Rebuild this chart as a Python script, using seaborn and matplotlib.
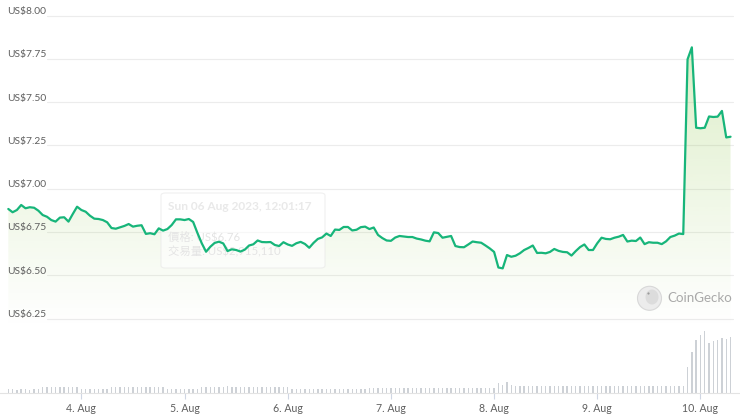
import numpy as np
import pandas as pd
import matplotlib
matplotlib.use('Agg')
import matplotlib.pyplot as plt
import matplotlib.dates as mdates
from matplotlib.colors import to_rgb
from matplotlib.patches import FancyBboxPatch, Ellipse
import seaborn as sns

# 데이터: 2023-08-03 07:00 부터 1시간 간격
start_time = '2023-08-03 07:00'

prices = [
    6.883, 6.864, 6.877, 6.906, 6.887, 6.893, 6.890, 6.873, 6.848, 6.838,
    6.819, 6.810, 6.833, 6.835, 6.810, 6.854, 6.896, 6.877, 6.867, 6.844,
    6.827, 6.825, 6.819, 6.806, 6.773, 6.769, 6.777, 6.785, 6.796, 6.781,
    6.786, 6.789, 6.739, 6.743, 6.737, 6.771, 6.758, 6.767, 6.790, 6.823,
    6.823, 6.819,
    6.825, 6.808, 6.744, 6.685, 6.636, 6.665, 6.687, 6.694, 6.684, 6.640,
    6.650, 6.646, 6.637, 6.648, 6.672, 6.679, 6.701, 6.692, 6.691, 6.692,
    6.675, 6.669, 6.691, 6.678, 6.670, 6.685, 6.693, 6.681, 6.659, 6.687,
    6.710, 6.719, 6.741, 6.727, 6.764, 6.762, 6.779, 6.779, 6.759, 6.763,
    6.778, 6.781,
    6.767, 6.776, 6.733, 6.715, 6.701, 6.699, 6.718, 6.727, 6.724, 6.721,
    6.721, 6.712, 6.707, 6.700, 6.696, 6.748, 6.744, 6.717, 6.722, 6.727,
    6.669, 6.663, 6.662, 6.678, 6.695, 6.691, 6.688, 6.672, 6.655, 6.635,
    6.545, 6.540, 6.617, 6.607, 6.613, 6.627, 6.646, 6.658, 6.672, 6.629,
    6.630, 6.627,
    6.635, 6.652, 6.641, 6.635, 6.633, 6.614, 6.640, 6.663, 6.678, 6.646,
    6.646, 6.685, 6.717, 6.710, 6.708, 6.717, 6.723, 6.733, 6.695, 6.700,
    6.698, 6.718, 6.680, 6.691, 6.688, 6.688, 6.680, 6.696, 6.721, 6.729,
    6.741, 6.738, 7.747, 7.816, 7.352, 7.349, 7.352, 7.417, 7.414, 7.416,
    7.449, 7.296, 7.300,
]

# 거래량 (임의 단위, 그림에서 막대 높이를 읽음)
volumes = [
    4.0, 4.0, 3.5, 4.0, 4.0, 3.5, 4.0, 4.0,
    6.0, 6.0, 6.0, 6.0, 6.0, 6.0, 6.0, 6.0, 6.0,
    4.0, 4.0, 4.0, 4.0, 4.0, 4.0, 4.0,
    6.0, 6.0, 6.0, 6.0, 6.0, 6.0, 6.0, 6.0, 6.0, 6.0, 6.0, 6.0, 6.0,
    4.0, 4.0, 4.0, 4.0, 4.0, 4.0, 4.0, 4.0,
    6.5, 6.5, 6.5, 6.5, 6.5, 6.5, 7.0, 6.5, 6.5, 6.5, 6.5,
    6.5, 6.5, 6.5, 6.5, 6.5, 6.5, 6.5, 6.5, 6.5, 6.5,
    4.5, 4.5, 4.5, 4.5, 4.5, 4.5, 4.5, 4.5, 4.5,
    4.5, 4.5, 4.5, 4.5, 4.5, 4.5, 4.5, 4.5, 4.5,
    5.5, 5.5, 5.5, 5.5, 5.5, 5.5, 5.5, 5.5, 5.5, 5.5,
    5.5, 5.5, 5.5, 5.5, 5.5, 5.5, 5.5, 5.5, 5.5, 5.5,
    5.5, 5.5, 5.5, 5.5, 5.5, 5.5, 5.5, 5.5, 5.5, 5.5,
    10.0, 8.0, 11.0, 8.0,
    7.0, 7.0, 7.0, 7.0, 7.0, 7.0, 7.0, 7.0, 7.0, 7.0,
    7.0, 7.0, 7.0, 7.0, 7.0, 7.0, 7.0, 7.0, 7.0, 7.0,
    7.0, 7.0, 7.0, 7.0, 7.0, 7.0, 7.0, 7.0, 7.0, 7.0,
    7.0, 7.0, 7.0, 7.0, 7.0, 7.0, 7.0, 7.0, 7.0, 7.0,
    26.0, 41.0, 52.6, 58.0, 61.6, 50.0, 51.6, 52.6, 55.0, 54.0, 55.6,
]

y_ticks = [6.25, 6.50, 6.75, 7.00, 7.25, 7.50, 7.75, 8.00]
y_labels = ['US$6.25', 'US$6.50', 'US$6.75', 'US$7.00',
            'US$7.25', 'US$7.50', 'US$7.75', 'US$8.00']
day_ticks = ['2023-08-04', '2023-08-05', '2023-08-06', '2023-08-07',
             '2023-08-08', '2023-08-09', '2023-08-10']
day_labels = ['4. Aug', '5. Aug', '6. Aug', '7. Aug', '8. Aug', '9. Aug', '10. Aug']

tooltip_title = 'Sun 06 Aug 2023, 12:01:17'
tooltip_lines = ['價格: US$6.76', '交易量: US$2,915,110']

LINE = '#17b57a'
FILL = '#8dc647'
W, H = 740, 419

sns.set_theme(style='white')
plt.rcParams['font.family'] = ['Lato', 'Noto Sans CJK TC', 'DejaVu Sans']

df = pd.DataFrame({
    'time': pd.date_range(start_time, periods=len(prices), freq='h'),
    'price': prices,
    'volume': volumes,
})

fig = plt.figure(figsize=(W / 100, H / 100), dpi=100)
ax = fig.add_axes([0, 0, 1, 1])
ax_vol = fig.add_axes([0, 26 / H, 1, 63 / H], sharex=ax)

t0 = pd.Timestamp(start_time)
x_left = t0 - pd.Timedelta(hours=1.93)
x_right = t0 + pd.Timedelta(hours=170.2)
y_low, y_high = 5.6703, 8.0895

# 그리드 라인 + 가격 라벨
for v, lab in zip(y_ticks, y_labels):
    ax.axhline(v, xmin=47 / W, xmax=733 / W, color='#ececec', lw=0.8, zorder=1)
    ax.text(7 / W, v + 1.5 / 173.2, lab, transform=ax.get_yaxis_transform(),
            ha='left', va='baseline', fontsize=7.4, color='#5f5f5f', zorder=6)

# 그라데이션 채우기
fill_base = 6.2
poly = ax.fill_between(df['time'], df['price'], fill_base, color='none', lw=0)
rgb = to_rgb(FILL)
grad = np.zeros((256, 1, 4))
grad[:, 0, :3] = rgb
grad[:, 0, 3] = np.linspace(0.0, 0.30, 256)
xn = mdates.date2num([x_left, x_right])
im = ax.imshow(grad, origin='lower', aspect='auto',
               extent=[xn[0], xn[1], fill_base, 7.85], zorder=2)
im.set_clip_path(poly.get_paths()[0], ax.transData)

# 툴팁 (흐릿한 잔상)
box = FancyBboxPatch((161 / W, 1 - 268 / H), 164 / W, 75 / H,
                     boxstyle='round,pad=0,rounding_size=0.006',
                     transform=ax.transAxes, facecolor='white', alpha=0.6,
                     edgecolor='#e6e6e6', lw=0.8, zorder=3)
ax.add_patch(box)
ax.text(168 / W, 1 - 207 / H, tooltip_title, transform=ax.transAxes,
        fontsize=8.6, fontweight='bold', color='#e9e9e9', va='center', zorder=3.5)
for i, line in enumerate(tooltip_lines):
    ax.text(168 / W, 1 - (237 + 15 * i) / H, line, transform=ax.transAxes,
            fontsize=8.2, color='#e4e4e4', va='center', zorder=3.5)

# 가격 라인
sns.lineplot(data=df, x='time', y='price', ax=ax, color=LINE, linewidth=1.6,
             zorder=4)

# 워터마크
ax.add_patch(Ellipse((649.5 / W, 1 - 298.3 / H), 24 / W, 24 / H,
                     transform=ax.transAxes, facecolor='#ececec',
                     edgecolor='#d8d8d8', lw=0.8, zorder=3))
ax.add_patch(Ellipse((652 / W, 1 - 297 / H), 13 / W, 15 / H,
                     transform=ax.transAxes, facecolor='#dcdcdc',
                     edgecolor='none', zorder=3.1))
ax.add_patch(Ellipse((648.5 / W, 1 - 293.5 / H), 2.2 / W, 2.2 / H,
                     transform=ax.transAxes, facecolor='#9a9a9a',
                     edgecolor='none', zorder=3.2))
ax.text(667 / W, 1 - 298.5 / H, 'CoinGecko', transform=ax.transAxes,
        fontsize=9.6, color='#a9a9a9', va='center', ha='left', zorder=3)

ax.set_xlim(x_left, x_right)
ax.set_ylim(y_low, y_high)
ax.axis('off')

# 거래량 막대
bar_w = 1.4 / 103.17
ax_vol.bar(df['time'], df['volume'], width=bar_w, color='#cdd1d6', lw=0)
ax_vol.set_ylim(0, 63)
ax_vol.patch.set_alpha(0)
for s in ['top', 'left', 'right']:
    ax_vol.spines[s].set_visible(False)
ax_vol.spines['bottom'].set_color('#e3e3e3')
ax_vol.spines['bottom'].set_linewidth(0.8)
ax_vol.set_yticks([])
ax_vol.set_xticks(pd.to_datetime(day_ticks))
ax_vol.set_xticklabels(day_labels)
ax_vol.tick_params(axis='x', length=4, width=0.8, color='#cfd6e3',
                   labelsize=7.6, labelcolor='#5f5f5f', pad=3, bottom=True)
ax_vol.set_xlabel('')
ax_vol.set_ylabel('')
ax.set_xlim(x_left, x_right)

fig.savefig('out.png', dpi=100)
